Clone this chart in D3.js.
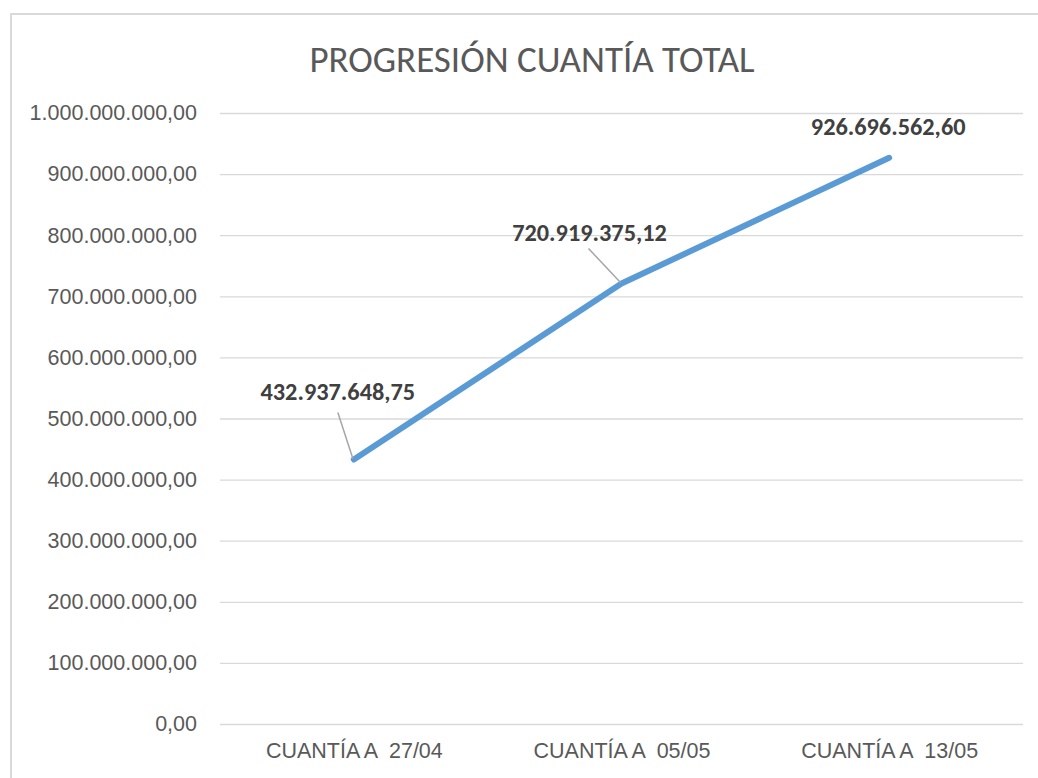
<!DOCTYPE html>
<html>
<head>
<meta charset="utf-8">
<script src="https://cdn.jsdelivr.net/npm/d3@7"></script>
<style>
  body { margin: 0; background: #fff; }
  svg { font-family: Carlito, Calibri, "Open Sans", sans-serif; }
</style>
</head>
<body>
<div id="vis"></div>
<script>
// chart data
var categories = ["CUANTÍA A  27/04", "CUANTÍA A  05/05", "CUANTÍA A  13/05"];
var values = [432937648.75, 720919375.12, 926696562.60];
var labels = ["432.937.648,75", "720.919.375,12", "926.696.562,60"];
var yTicks = [0, 100000000, 200000000, 300000000, 400000000, 500000000,
              600000000, 700000000, 800000000, 900000000, 1000000000];

var width = 1038, height = 778;
var margin = {top: 113, right: 15, bottom: 54, left: 220};

var svg = d3.select("#vis").append("svg")
    .attr("width", width)
    .attr("height", height);

// outer frame of the chart area
svg.append("rect")
    .attr("x", 11).attr("y", 14)
    .attr("width", width + 20).attr("height", height + 20)
    .attr("fill", "#fff")
    .attr("stroke", "#d9d9d9")
    .attr("stroke-width", 2);

var x = d3.scalePoint()
    .domain(categories)
    .range([margin.left, width - margin.right])
    .padding(0.5);

var y = d3.scaleLinear()
    .domain([0, 1000000000])
    .range([height - margin.bottom, margin.top]);

// format like 1.000.000.000,00
var esFormat = d3.formatLocale({decimal: ",", thousands: ".", grouping: [3], currency: ["", ""]}).format(",.2f");

// gridlines + y labels
var yAxis = svg.append("g")
    .attr("transform", "translate(" + margin.left + ",0)")
    .call(d3.axisLeft(y).tickValues(yTicks).tickFormat(esFormat)
        .tickSize(-(width - margin.left - margin.right)).tickPadding(23));
yAxis.select(".domain").remove();
yAxis.selectAll(".tick line").attr("stroke", "#d9d9d9").attr("stroke-width", 1.3);
yAxis.selectAll(".tick text")
    .style("font-size", "21.5px")
    .attr("fill", "#595959");

// x labels
var xAxis = svg.append("g")
    .attr("transform", "translate(0," + (height - margin.bottom) + ")")
    .call(d3.axisBottom(x).tickSize(0).tickPadding(19));
xAxis.select(".domain").remove();
xAxis.selectAll(".tick text")
    .style("font-size", "21.5px")
    .style("white-space", "pre")
    .attr("fill", "#595959");

// title
svg.append("text")
    .attr("x", 532)
    .attr("y", 72)
    .attr("text-anchor", "middle")
    .style("font-size", "37px")
    .attr("fill", "#595959")
    .text("PROGRESIÓN CUANTÍA TOTAL");

// the line
var line = d3.line()
    .x(function(d, i) { return x(categories[i]); })
    .y(function(d) { return y(d); });

svg.append("path")
    .datum(values)
    .attr("d", line)
    .attr("fill", "none")
    .attr("stroke", "#5b9bd5")
    .attr("stroke-width", 6)
    .attr("stroke-linecap", "round")
    .attr("stroke-linejoin", "round");

// data labels (offsets relative to the point)
var labelOffsets = [[-16, -67], [-32, -51], [-1, -31]];
var leaders = [true, true, false];

values.forEach(function(v, i) {
    var px = x(categories[i]), py = y(v);
    var lx = px + labelOffsets[i][0], ly = py + labelOffsets[i][1];
    if (leaders[i]) {
        var sx = lx, sy = ly + 20;
        if (i == 1) { sx = lx - 1; sy = ly + 16; }
        svg.append("line")
            .attr("x1", sx).attr("y1", sy)
            .attr("x2", px - 1).attr("y2", py - 1)
            .attr("stroke", "#a6a6a6")
            .attr("stroke-width", 1.5);
    }
    svg.append("text")
        .attr("x", lx)
        .attr("y", ly + 8)
        .attr("text-anchor", "middle")
        .style("font-size", "24.3px")
        .style("font-weight", "bold")
        .attr("fill", "#404040")
        .text(labels[i]);
});
</script>
</body>
</html>
